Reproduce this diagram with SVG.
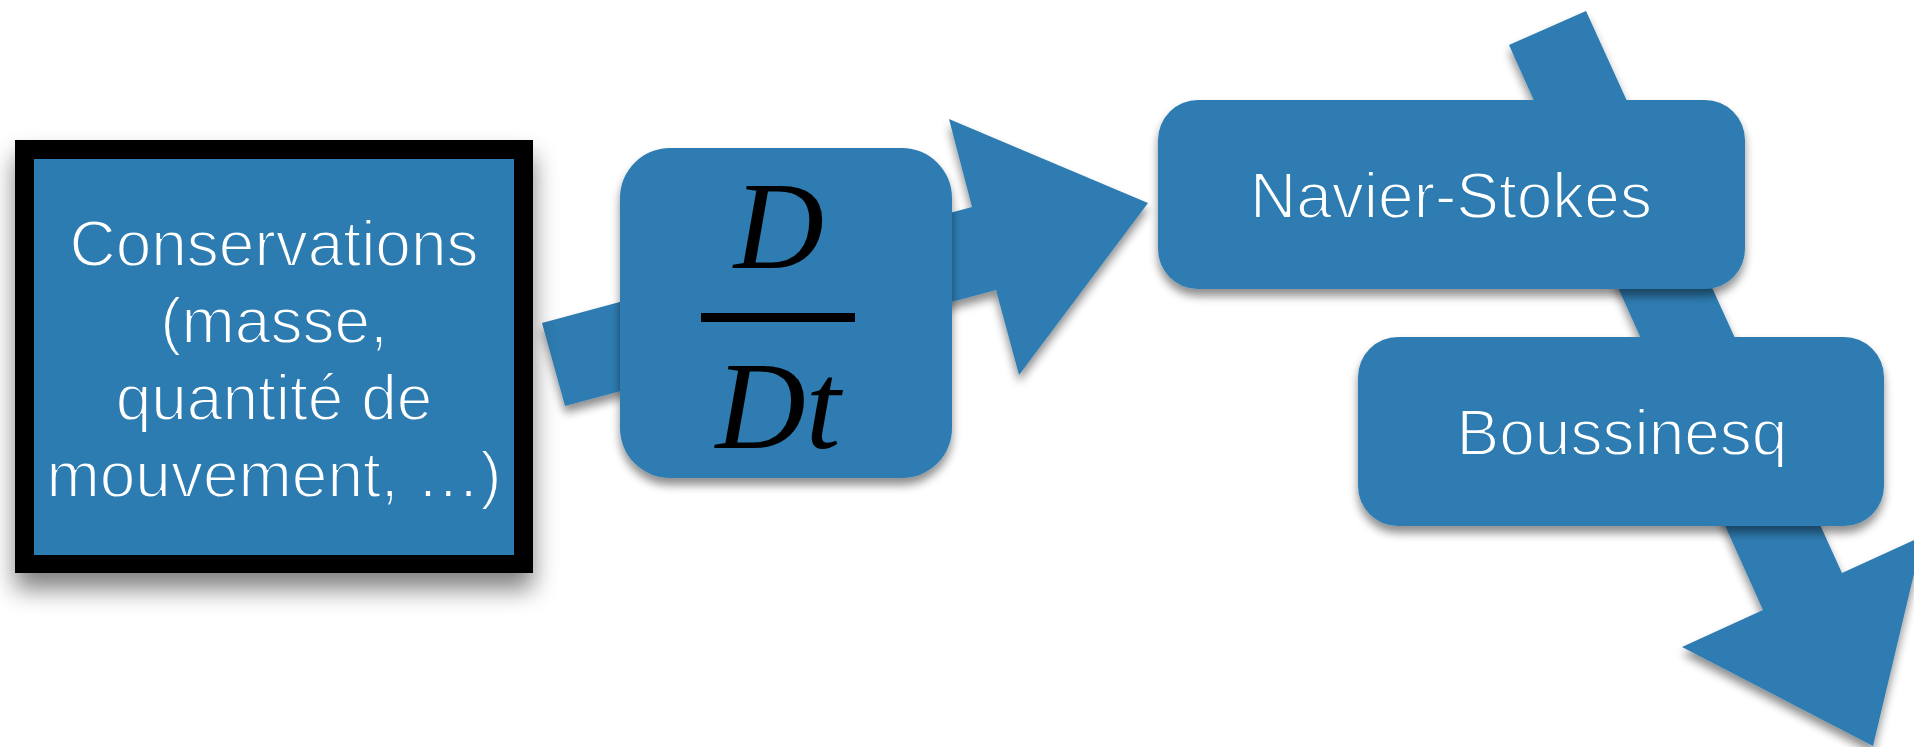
<svg xmlns="http://www.w3.org/2000/svg" width="1914" height="747" viewBox="0 0 1914 747">
  <defs>
    <filter id="shadow" x="-10%" y="-10%" width="120%" height="140%">
      <feGaussianBlur in="SourceAlpha" stdDeviation="5"/>
      <feOffset dx="0" dy="7" result="b"/>
      <feComponentTransfer><feFuncA type="linear" slope="0.45"/></feComponentTransfer>
      <feMerge><feMergeNode/><feMergeNode in="SourceGraphic"/></feMerge>
    </filter>
    <filter id="bigshadow" x="-10%" y="-10%" width="120%" height="140%">
      <feGaussianBlur in="SourceAlpha" stdDeviation="12"/>
      <feOffset dx="0" dy="16" result="b"/>
      <feComponentTransfer><feFuncA type="linear" slope="0.5"/></feComponentTransfer>
      <feMerge><feMergeNode/><feMergeNode in="SourceGraphic"/></feMerge>
    </filter>
  </defs>
  <style>
    .felt { fill: #2d7cb1; }
    .lbl { font-family: "Liberation Sans", Arial, Helvetica, sans-serif; font-size: 64px; fill: #ffffff; stroke: #2d7cb1; stroke-width: 1.8px; text-anchor: middle; }
    .math { font-family: "Liberation Serif", "Times New Roman", serif; font-style: italic; font-size: 125px; fill: #000000; text-anchor: middle; }
  </style>
  <rect width="1914" height="747" fill="#ffffff"/>

  <g id="connectors">
    <g filter="url(#shadow)">
      <polygon id="arrow-dt-ns" class="felt" points="542,323 972,207 949,119 1148,203 1019,375 996,290 565,406"/>
    </g>
    <g filter="url(#shadow)">
      <polygon id="arrow-ns-bq" class="felt" points="1509,45 1586,11 1842,573 1923,536 1873,746 1682,647 1763,610"/>
    </g>
  </g>

  <g id="node-conservations">
    <g filter="url(#bigshadow)">
      <rect x="15" y="140" width="518" height="433" fill="#000000"/>
    </g>
    <rect x="34" y="159" width="480" height="396" class="felt"/>
    <text class="lbl" x="274" y="266">Conservations</text>
    <text class="lbl" x="274" y="343">(masse,</text>
    <text class="lbl" x="274" y="420">quantité de</text>
    <text class="lbl" x="274" y="497">mouvement, …)</text>
  </g>

  <g id="node-ddt">
    <g filter="url(#shadow)">
      <rect x="620" y="148" width="332" height="330" rx="50" ry="50" class="felt"/>
    </g>
    <text class="math" x="779" y="268">D</text>
    <rect x="701" y="313" width="154" height="9" fill="#000000"/>
    <text class="math" x="778" y="448">Dt</text>
  </g>

  <g id="node-navier-stokes">
    <g filter="url(#shadow)">
      <rect x="1158" y="100" width="587" height="189" rx="40" ry="40" class="felt"/>
    </g>
    <text class="lbl" x="1451" y="218">Navier-Stokes</text>
  </g>

  <g id="node-boussinesq">
    <g filter="url(#shadow)">
      <rect x="1358" y="337" width="526" height="189" rx="40" ry="40" class="felt"/>
    </g>
    <text class="lbl" x="1622" y="455">Boussinesq</text>
  </g>
</svg>
